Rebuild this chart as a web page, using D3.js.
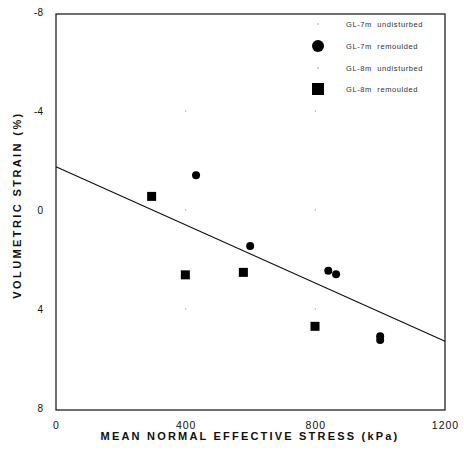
<!DOCTYPE html>
<html><head><meta charset="utf-8">
<script src="https://cdn.jsdelivr.net/npm/d3@7"></script>
<style>body{margin:0;background:#fff}svg{display:block}</style>
</head><body>
<script>
// Data
const remoulded7 = [{x:432,y:-1.4},{x:599,y:1.45},{x:840,y:2.45},{x:864,y:2.6},{x:1000,y:5.1},{x:1000,y:5.25}];
const remoulded8 = [{x:295,y:-0.55},{x:399,y:2.62},{x:578,y:2.52},{x:799,y:4.7}];
const fitLine = [{x:0,y:-1.75},{x:1200,y:5.3}];
const xTicks = [0,400,800,1200];
const yTicks = [-8,-4,0,4,8];
const legendLabels = ["GL-7m  undisturbed","GL-7m  remoulded","GL-8m  undisturbed","GL-8m  remoulded"];
const gridX = [400,800];
const gridY = [-4,0,4];

const W=464,H=456;
const svg=d3.select("body").append("svg").attr("width",W).attr("height",H);
const x=d3.scaleLinear().domain([0,1200]).range([56,445]);
const y=d3.scaleLinear().domain([-8,8]).range([12,408]);
const fmt=d=>String(d);

// frame
svg.append("rect").attr("x",x(0)).attr("y",14).attr("width",x(1200)-x(0)).attr("height",410-14)
  .attr("fill","none").attr("stroke","#222").attr("stroke-width",1.3);

// faint grid dots
gridX.forEach(gx=>gridY.forEach(gy=>{
  svg.append("circle").attr("cx",x(gx)).attr("cy",y(gy)).attr("r",0.7).attr("fill","#aaa");
}));

// axes (labels only)
const xAxis=d3.axisBottom(x).tickValues(xTicks).tickSize(0).tickPadding(0).tickFormat(fmt);
const gx=svg.append("g").attr("transform","translate(0,422)").call(xAxis);
gx.select(".domain").remove();
gx.selectAll("text").attr("font-family","Liberation Sans, Arial, sans-serif").attr("font-size",10.5).attr("fill","#111").attr("letter-spacing","1px");

const yAxis=d3.axisLeft(y).tickValues(yTicks).tickSize(0).tickPadding(0).tickFormat(fmt);
const gy=svg.append("g").attr("transform","translate(43,0)").call(yAxis);
gy.select(".domain").remove();
gy.selectAll("text").attr("font-family","Liberation Sans, Arial, sans-serif").attr("font-size",10).attr("fill","#111");

// axis titles
svg.append("text").attr("x",250).attr("y",440).attr("text-anchor","middle")
  .attr("font-family","Liberation Sans, Arial, sans-serif").attr("font-weight","bold").attr("font-size",11)
  .attr("letter-spacing","2.2px").attr("fill","#111").text("MEAN NORMAL EFFECTIVE STRESS (kPa)");
svg.append("text").attr("transform","translate(21,205) rotate(-90)").attr("text-anchor","middle")
  .attr("font-family","Liberation Sans, Arial, sans-serif").attr("font-weight","bold").attr("font-size",11)
  .attr("letter-spacing","2.4px").attr("fill","#111").text("VOLUMETRIC STRAIN (%)");

// fit line
svg.append("path").datum(fitLine)
  .attr("d",d3.line().x(d=>x(d.x)).y(d=>y(d.y)))
  .attr("fill","none").attr("stroke","#111").attr("stroke-width",1.2);

// points
svg.selectAll("circle.r7").data(remoulded7).enter().append("circle").attr("class","r7")
  .attr("cx",d=>x(d.x)).attr("cy",d=>y(d.y)).attr("r",4).attr("fill","#000");
svg.selectAll("rect.r8").data(remoulded8).enter().append("rect").attr("class","r8")
  .attr("x",d=>x(d.x)-4.5).attr("y",d=>y(d.y)-4.5).attr("width",9).attr("height",9).attr("fill","#000");

// legend
const lg=svg.append("g");
const ly=[24,46,68,89];
const lmx=318;
lg.append("circle").attr("cx",lmx).attr("cy",ly[0]).attr("r",0.7).attr("fill","#888");
lg.append("circle").attr("cx",lmx).attr("cy",ly[1]).attr("r",6).attr("fill","#000");
lg.append("circle").attr("cx",lmx).attr("cy",ly[2]).attr("r",0.7).attr("fill","#888");
lg.append("rect").attr("x",lmx-6).attr("y",ly[3]-6).attr("width",12).attr("height",12).attr("fill","#000");
legendLabels.forEach((t,i)=>{
  lg.append("text").attr("x",346).attr("y",ly[i]+3).attr("font-family","Liberation Sans, Arial, sans-serif")
    .attr("font-size",7.5).attr("letter-spacing","0.6px").attr("fill","#333").attr("xml:space","preserve").text(t);
});
</script>
</body></html>
